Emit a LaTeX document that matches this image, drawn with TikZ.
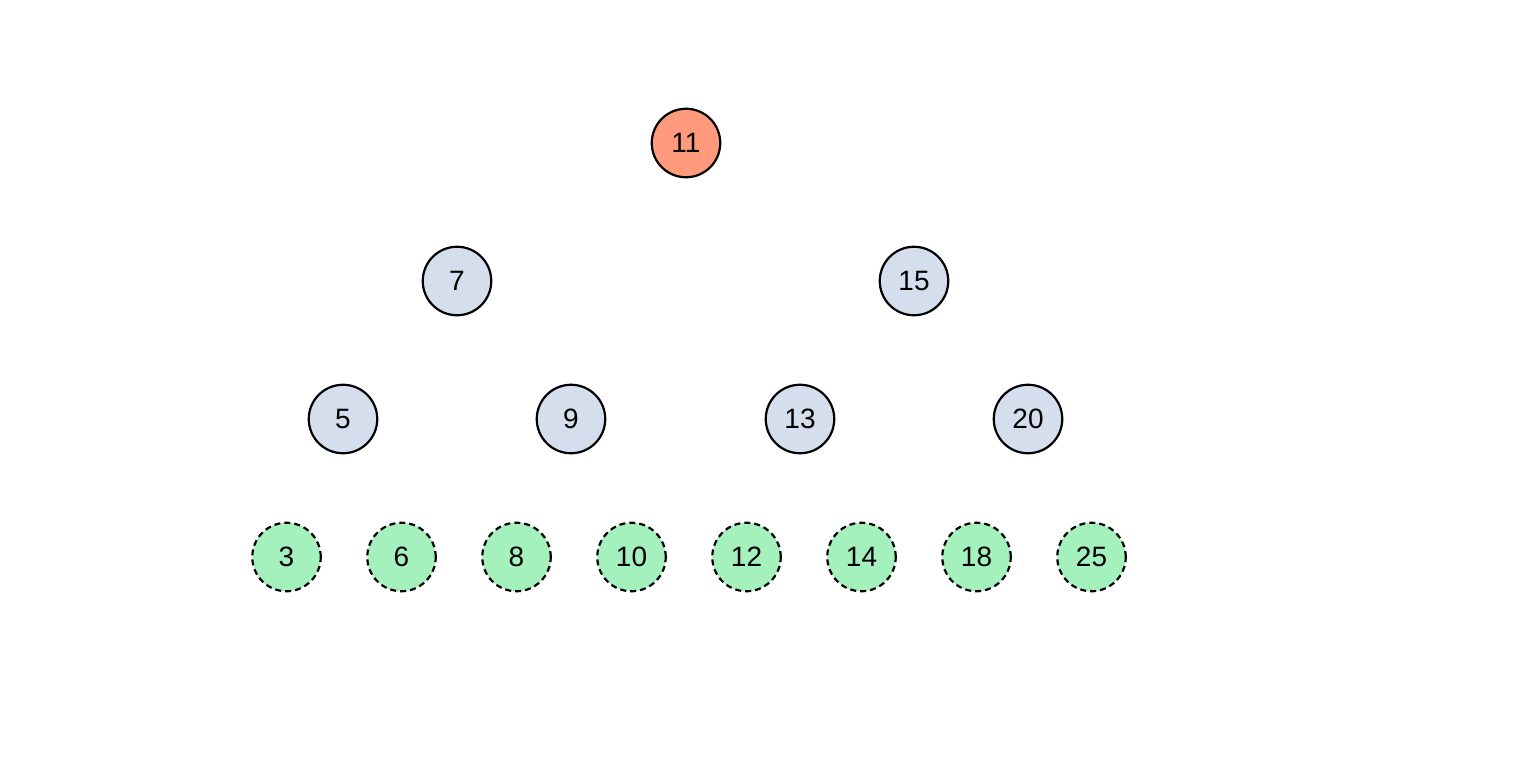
\documentclass[tikz,border=0pt]{standalone}
\usepackage{fontspec}
\setmainfont{Liberation Sans}
\definecolor{rootc}{HTML}{FF9A7C}
\definecolor{innerc}{HTML}{D4DEEC}
\definecolor{leafc}{HTML}{A4F1BE}
\begin{document}
\begin{tikzpicture}[x=1pt,y=-1pt,
  nd/.style={circle,draw=black,line width=2.2pt,minimum size=68.5pt,inner sep=0pt,font=\fontsize{28}{33}\selectfont},
  rootnd/.style={nd,fill=rootc},
  innernd/.style={nd,fill=innerc},
  leafnd/.style={nd,fill=leafc,dash pattern=on 6pt off 4pt}]
\useasboundingbox[fill=white] (0,0) rectangle (1520,769);
\node[rootnd] (n11) at (686,143) {11};
\node[innernd] (n7) at (457,281) {7};
\node[innernd] (n15) at (914,281) {15};
\node[innernd] (n5) at (343,419) {5};
\node[innernd] (n9) at (571,419) {9};
\node[innernd] (n13) at (800,419) {13};
\node[innernd] (n20) at (1028,419) {20};
\node[leafnd] (n3) at (286.5,557) {3};
\node[leafnd] (n6) at (401.5,557) {6};
\node[leafnd] (n8) at (516.5,557) {8};
\node[leafnd] (n10) at (631.5,557) {10};
\node[leafnd] (n12) at (746.5,557) {12};
\node[leafnd] (n14) at (861.5,557) {14};
\node[leafnd] (n18) at (976.5,557) {18};
\node[leafnd] (n25) at (1091.5,557) {25};
\end{tikzpicture}
\end{document}
